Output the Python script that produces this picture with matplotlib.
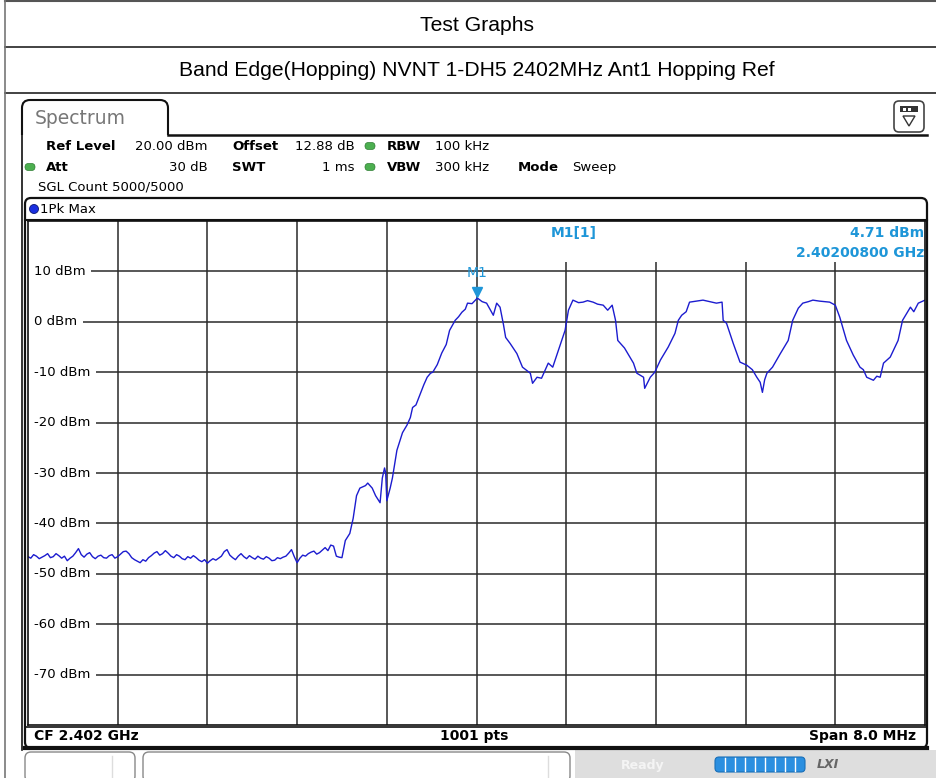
import matplotlib
matplotlib.use("Agg")
import matplotlib.pyplot as plt
from matplotlib.patches import FancyBboxPatch, Rectangle, Circle, Polygon
from matplotlib.path import Path
from matplotlib.patches import PathPatch

# ── data ─────────────────────────────────────────────────────────────────────
start_mhz = 2398.0
span_mhz = 8.0
ref_level = 20.0
y_ticks = [10, 0, -10, -20, -30, -40, -50, -60, -70]

# trace (offset from 2398 MHz, level in dBm)
noise_off = [0.000, 0.025, 0.050, 0.075, 0.100, 0.125, 0.150, 0.175, 0.200, 0.225,
             0.250, 0.275, 0.300, 0.325, 0.350, 0.375, 0.400, 0.425, 0.450, 0.475,
             0.500, 0.525, 0.550, 0.575, 0.600, 0.625, 0.650, 0.675, 0.700, 0.725,
             0.750, 0.775, 0.800, 0.825, 0.850, 0.875, 0.900, 0.925, 0.950, 0.975,
             1.000, 1.025, 1.050, 1.075, 1.100, 1.125, 1.150, 1.175, 1.200, 1.225,
             1.250, 1.275, 1.300, 1.325, 1.350, 1.375, 1.400, 1.425, 1.450, 1.475,
             1.500, 1.525, 1.550, 1.575, 1.600, 1.625, 1.650, 1.675, 1.700, 1.725,
             1.750, 1.775, 1.800, 1.825, 1.850, 1.875, 1.900, 1.925, 1.950, 1.975,
             2.000, 2.025, 2.050, 2.075, 2.100, 2.125, 2.150, 2.175, 2.200, 2.225,
             2.250, 2.275, 2.300, 2.325, 2.350, 2.375, 2.400, 2.425, 2.450, 2.475,
             2.500, 2.525, 2.550, 2.575, 2.600, 2.625, 2.650, 2.675, 2.700, 2.725,
             2.750, 2.775]
noise_dbm = [-46.6, -46.9, -46.2, -46.5, -47.0, -46.7, -46.4, -46.0, -46.8, -46.6,
             -46.0, -46.4, -46.9, -46.5, -47.4, -46.9, -46.5, -45.8, -45.0, -46.2,
             -46.7, -46.1, -45.8, -46.6, -47.0, -46.5, -46.3, -46.8, -46.9, -46.4,
             -46.2, -46.9, -46.6, -46.1, -45.6, -45.5, -46.0, -46.8, -47.2, -47.5,
             -47.8, -47.2, -47.5, -46.8, -46.4, -45.9, -45.6, -46.3, -46.0, -45.4,
             -45.9, -46.5, -46.8, -46.2, -46.5, -47.0, -47.2, -46.6, -46.9, -46.4,
             -46.8, -47.3, -47.6, -47.2, -47.9, -47.4, -47.0, -47.3, -46.9, -46.5,
             -45.6, -45.2, -46.3, -46.8, -47.2, -46.5, -46.0, -46.6, -47.0, -46.4,
             -46.8, -47.1, -46.5, -46.9, -47.1, -46.6, -46.9, -47.4, -47.3, -46.8,
             -47.0, -46.7, -46.5, -45.9, -45.2, -46.6, -47.8, -46.9, -46.3, -46.5,
             -46.0, -45.7, -45.5, -46.1, -45.8, -45.3, -44.8, -45.4, -44.3, -44.5,
             -46.5, -46.7]

band_off = [2.80, 2.83, 2.87, 2.90, 2.93, 2.96, 3.01, 3.03, 3.07, 3.10,
            3.14, 3.16, 3.18, 3.19, 3.20, 3.23, 3.25, 3.29, 3.34, 3.38,
            3.41, 3.43, 3.46, 3.50, 3.53, 3.56, 3.59, 3.61, 3.65, 3.69,
            3.73, 3.76, 3.79, 3.81, 3.84, 3.87, 3.90, 3.92, 3.96, 4.008,
            4.05, 4.09, 4.12, 4.15, 4.18, 4.21, 4.24, 4.26, 4.30, 4.36,
            4.41, 4.48, 4.50, 4.54, 4.58, 4.64, 4.68, 4.74, 4.79, 4.82,
            4.86, 4.91, 4.95, 4.99, 5.04, 5.08, 5.13, 5.17, 5.21, 5.24,
            5.26, 5.32, 5.40, 5.43, 5.49, 5.50, 5.55, 5.59, 5.64, 5.71,
            5.77, 5.80, 5.83, 5.87, 5.90, 5.96, 6.02, 6.08, 6.14, 6.19,
            6.20, 6.23, 6.29, 6.35, 6.41, 6.46, 6.50, 6.53, 6.55, 6.57,
            6.59, 6.64, 6.71, 6.78, 6.82, 6.87, 6.91, 6.96, 7.00, 7.06,
            7.15, 7.20, 7.24, 7.30, 7.36, 7.42, 7.45, 7.48, 7.54, 7.57,
            7.60, 7.63, 7.69, 7.76, 7.80, 7.87, 7.90, 7.94, 8.00]
band_dbm = [-46.8, -43.4, -42.0, -39.0, -34.5, -33.0, -32.5, -32.0, -33.0, -34.5,
            -35.9, -31.0, -29.0, -30.0, -35.5, -33.0, -31.0, -25.5, -22.0, -20.5,
            -19.0, -17.0, -16.5, -14.2, -12.5, -11.0, -10.2, -10.0, -8.5, -6.2,
            -4.5, -1.7, -0.5, 0.3, 1.0, 1.9, 2.5, 3.7, 3.6, 4.71,
            4.0, 3.7, 2.5, 1.3, 3.7, 2.9, -0.5, -3.1, -4.3, -6.3,
            -9.0, -10.2, -12.2, -11.0, -11.2, -8.2, -9.0, -5.0, -1.7, 2.3,
            4.3, 3.8, 3.9, 4.2, 3.9, 3.5, 3.3, 2.3, 3.3, 0.3,
            -3.7, -5.2, -8.2, -10.2, -11.0, -13.2, -11.0, -10.0, -7.6, -5.0,
            -2.3, 0.3, 1.3, 2.0, 3.9, 4.1, 4.3, 4.0, 3.7, 3.9,
            0.3, -0.3, -4.3, -8.0, -8.6, -9.5, -11.0, -12.0, -14.0, -11.5,
            -10.2, -9.0, -6.3, -3.7, 0.3, 2.7, 3.7, 4.0, 4.3, 4.1,
            3.9, 3.3, 0.9, -3.7, -6.6, -9.0, -9.5, -11.0, -11.6, -10.8,
            -11.0, -8.2, -7.0, -3.7, 0.3, 2.9, 2.0, 3.7, 4.3]

marker_off = 4.008
marker_dbm = 4.71

# ── layout (pixels of a 937x778 canvas) ───────────────────────────────────────
W, H = 937, 778
PX_L, PX_R, PX_T, PX_B = 28, 925, 221, 725

TRACE = "#1c1ccf"
MKR = "#1e96d8"
GRID = "#2a2a2a"

fig = plt.figure(figsize=(W / 100, H / 100), dpi=100)
bg = fig.add_axes([0, 0, 1, 1])
bg.set_xlim(0, W)
bg.set_ylim(H, 0)
bg.axis("off")

# outer report table
bg.plot([5, W], [1, 1], color="#555555", lw=1.5)
bg.plot([5, W], [47, 47], color="#222222", lw=1.2)
bg.plot([5, W], [93, 93], color="#222222", lw=1.2)
bg.plot([5, 5], [0, H], color="#777777", lw=1.2)
bg.text(477, 25, "Test Graphs", ha="center", va="center", fontsize=15.2,
        family="Liberation Sans")
bg.text(477, 70, "Band Edge(Hopping) NVNT 1-DH5 2402MHz Ant1 Hopping Ref",
        ha="center", va="center", fontsize=15.2, family="Liberation Sans")

# Spectrum tab
verts = [(22, 135), (22, 108), (22, 100), (30, 100), (160, 100), (168, 100),
         (168, 108), (168, 135)]
codes = [Path.MOVETO, Path.LINETO, Path.CURVE3, Path.CURVE3, Path.LINETO,
         Path.CURVE3, Path.CURVE3, Path.LINETO]
bg.add_patch(PathPatch(Path(verts, codes), fill=False, lw=1.5, ec="#111111"))
bg.text(35, 118, "Spectrum", fontsize=13.5, color="#777777", va="center",
        family="DejaVu Sans")
bg.plot([168, 927], [135, 135], color="#111111", lw=1.8)
bg.plot([22, 22], [135, 750], color="#111111", lw=1.2)

# settings icon
bg.add_patch(FancyBboxPatch((894, 101), 30, 31, boxstyle="round,pad=0,rounding_size=5",
                            fc="white", ec="#444444", lw=1.2))
bg.add_patch(Rectangle((900, 106), 18, 6, fc="#333333", ec="none"))
bg.add_patch(Rectangle((903, 107.5), 3, 3, fc="white", ec="none"))
bg.add_patch(Rectangle((908, 107.5), 3, 3, fc="white", ec="none"))
bg.add_patch(Polygon([(903, 116), (915, 116), (909, 126)], closed=True,
                     fc="white", ec="#333333", lw=1))

# setting rows
fs = 9.5
row1, row2, row3 = 146, 167, 187
bg.text(46, row1, "Ref Level", fontsize=fs, weight="bold", va="center")
bg.text(208, row1, "20.00 dBm", fontsize=fs, va="center", ha="right")
bg.text(232, row1, "Offset", fontsize=fs, weight="bold", va="center")
bg.text(355, row1, "12.88 dB", fontsize=fs, va="center", ha="right")
bg.text(387, row1, "RBW", fontsize=fs, weight="bold", va="center")
bg.text(435, row1, "100 kHz", fontsize=fs, va="center")
bg.text(46, row2, "Att", fontsize=fs, weight="bold", va="center")
bg.text(208, row2, "30 dB", fontsize=fs, va="center", ha="right")
bg.text(232, row2, "SWT", fontsize=fs, weight="bold", va="center")
bg.text(355, row2, "1 ms", fontsize=fs, va="center", ha="right")
bg.text(387, row2, "VBW", fontsize=fs, weight="bold", va="center")
bg.text(435, row2, "300 kHz", fontsize=fs, va="center")
bg.text(518, row2, "Mode", fontsize=fs, weight="bold", va="center")
bg.text(572, row2, "Sweep", fontsize=fs, va="center")
bg.text(38, row3, "SGL Count 5000/5000", fontsize=fs, va="center")
for cx, cy in [(370, row1), (370, row2), (30, row2)]:
    bg.add_patch(FancyBboxPatch((cx - 5, cy - 3.5), 10, 7,
                                boxstyle="round,pad=0,rounding_size=3.5",
                                fc="#4caf50", ec="#2e7d32", lw=0.5))

# trace box
bg.add_patch(FancyBboxPatch((25, 198), 902, 550, boxstyle="round,pad=0,rounding_size=6",
                            fill=False, ec="#111111", lw=1.6))
bg.add_patch(Circle((34, 209), 4.5, fc="#1a2fe0", ec="#0a1570", lw=0.6))
bg.text(40, 209, "1Pk Max", fontsize=fs, va="center")
bg.plot([25, 927], [220, 220], color="#111111", lw=1.5)

# bottom info bar
bg.text(34, 736, "CF 2.402 GHz", fontsize=10, weight="bold", va="center")
bg.text(474, 736, "1001 pts", fontsize=10, weight="bold", va="center", ha="center")
bg.text(916, 736, "Span 8.0 MHz", fontsize=10, weight="bold", va="center", ha="right")
bg.plot([25, 927], [727, 727], color="#111111", lw=1.2)
bg.plot([25, 927], [748, 748], color="#111111", lw=3)

# status bar
bg.add_patch(Rectangle((575, 750), W - 575, 28, fc="#dedede", ec="none"))
bg.add_patch(FancyBboxPatch((25, 752), 110, 30, boxstyle="round,pad=0,rounding_size=6",
                            fc="white", ec="#888888", lw=1))
bg.plot([112, 112], [756, 778], color="#dddddd", lw=1)
bg.add_patch(FancyBboxPatch((143, 752), 427, 30, boxstyle="round,pad=0,rounding_size=6",
                            fc="white", ec="#888888", lw=1))
bg.plot([548, 548], [756, 778], color="#dddddd", lw=1)
bg.text(643, 765, "Ready", fontsize=9, color="#f4f4f4", ha="center", va="center",
        weight="bold")
bg.add_patch(FancyBboxPatch((715, 757), 90, 15, boxstyle="round,pad=0,rounding_size=4",
                            fc="#2b8fe0", ec="#1a6fb8", lw=0.8))
for k in range(1, 9):
    bg.plot([715 + k * 10, 715 + k * 10], [758, 771], color="white", lw=1)
bg.text(828, 764, "LXI", fontsize=9, color="#666666", ha="center", va="center",
        weight="bold", style="italic")

# ── spectrum plot ─────────────────────────────────────────────────────────────
ax = fig.add_axes([PX_L / W, 1 - PX_B / H, (PX_R - PX_L) / W, (PX_B - PX_T) / H])
ax.set_zorder(2)
ax.set_xlim(start_mhz, start_mhz + span_mhz)
ax.set_ylim(ref_level - 100, ref_level)
ax.set_xticks([])
ax.set_yticks([])
for s in ax.spines.values():
    s.set_color("#111111")
    s.set_linewidth(1.2)
    s.set_zorder(8)


def fx(px):
    return start_mhz + (px - PX_L) / (PX_R - PX_L) * span_mhz


def fy(py):
    return ref_level - (py - PX_T) / (PX_B - PX_T) * 100


for k in range(1, 10):
    ax.axvline(start_mhz + k * span_mhz / 10, color=GRID, lw=1.1, zorder=1)
for v in y_ticks:
    ax.axhline(v, color=GRID, lw=1.1, zorder=1)
    ax.text(fx(34), v, f"{v} dBm", fontsize=fs, va="center", ha="left", zorder=3,
            bbox=dict(boxstyle="square,pad=0.42", fc="white", ec="none"))

freq = [start_mhz + o for o in noise_off + band_off]
level = noise_dbm + band_dbm
ax.plot(freq, level, color=TRACE, lw=1.0, zorder=4)

# marker info area
ax.add_patch(Rectangle((fx(482), fy(262)), fx(PX_R) - fx(482), fy(PX_T) - fy(262),
                       fc="white", ec="none", zorder=2))
ax.text(fx(551), fy(233), "M1[1]", fontsize=10, weight="bold", color=MKR,
        va="center", zorder=5)
ax.text(fx(924), fy(233), "4.71 dBm", fontsize=10, weight="bold", color=MKR,
        va="center", ha="right", zorder=5)
ax.text(fx(924), fy(253), "2.40200800 GHz", fontsize=10, weight="bold", color=MKR,
        va="center", ha="right", zorder=5)

mx = start_mhz + marker_off
ax.plot([mx], [marker_dbm + 1.2], marker="v", ms=7, color=MKR, zorder=6)
ax.text(mx, marker_dbm + 3.6, "M1", fontsize=10, color=MKR, ha="center",
        va="bottom", zorder=6)

fig.savefig("out.png", dpi=100)
